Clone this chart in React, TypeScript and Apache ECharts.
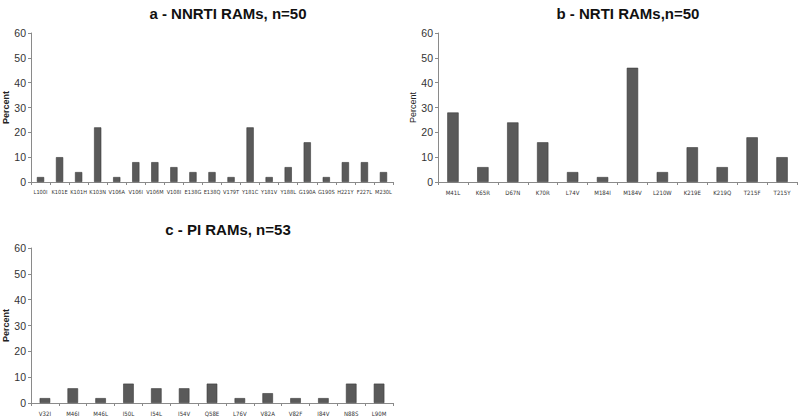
import React, { useEffect, useRef } from "react";
import * as echarts from "echarts";

const nnrtiCategories = ["L100I", "K101E", "K101H", "K103N", "V106A", "V106I", "V106M", "V108I", "E138G", "E138Q", "V179T", "Y181C", "Y181V", "Y188L", "G190A", "G190S", "H221Y", "F227L", "M230L"];
const nnrtiValues = [2, 10, 4, 22, 2, 8, 8, 6, 4, 4, 2, 22, 2, 6, 16, 2, 8, 8, 4];

const nrtiCategories = ["M41L", "K65R", "D67N", "K70R", "L74V", "M184I", "M184V", "L210W", "K219E", "K219Q", "T215F", "T215Y"];
const nrtiValues = [28, 6, 24, 16, 4, 2, 46, 4, 14, 6, 18, 10];

const piCategories = ["V32I", "M46I", "M46L", "I50L", "I54L", "I54V", "Q58E", "L76V", "V82A", "V82F", "I84V", "N88S", "L90M"];
const piValues = [1.9, 5.7, 1.9, 7.5, 5.7, 5.7, 7.5, 1.9, 3.8, 1.9, 1.9, 7.5, 7.5];

const titles = ["a - NNRTI RAMs, n=50", "b - NRTI RAMs,n=50", "c - PI RAMs, n=53"];
const yTicks = { min: 0, max: 60, interval: 10 };

const FONT = "'Liberation Sans', 'DejaVu Sans', sans-serif";
const NARROW = "'Liberation Sans Narrow', 'DejaVu Sans Condensed', 'Liberation Sans', sans-serif";
const AXIS_COLOR = "#8a8a8a";

export default function App() {
  const ref = useRef<HTMLDivElement>(null);
  useEffect(() => {
    if (!ref.current) return;
    const chart = echarts.init(ref.current, null, { renderer: "svg" });
    const grids = [
      { left: 31, top: 33, width: 362, height: 149 },
      { left: 438, top: 33, width: 359, height: 149 },
      { left: 31, top: 248, width: 362, height: 155 },
    ];
    const cats = [nnrtiCategories, nrtiCategories, piCategories];
    const vals = [nnrtiValues, nrtiValues, piValues];
    const boldName = [true, false, true];
    const titleCenters = [
      { x: 223, y: 1 },
      { x: 623, y: 1 },
      { x: 223, y: 217 },
    ];
    chart.setOption({
      animation: false,
      backgroundColor: "#ffffff",
      textStyle: { fontFamily: FONT },
      title: titles.map((t, i) => ({
        text: t,
        left: titleCenters[i].x,
        top: titleCenters[i].y,
        textAlign: "center",
        textStyle: { fontFamily: FONT, fontSize: 15, fontWeight: "bold", color: "#111" },
      })),
      grid: grids.map((g) => ({ ...g, containLabel: false })),
      xAxis: cats.map((c, i) => ({
        type: "category",
        gridIndex: i,
        data: c,
        axisLine: { lineStyle: { color: AXIS_COLOR, width: 1 } },
        axisTick: { show: true, length: 3, lineStyle: { color: AXIS_COLOR } },
        axisLabel: {
          interval: 0,
          hideOverlap: false,
          fontSize: i === 0 ? 5.6 : 6,
          color: "#333",
          margin: 7,
          fontFamily: NARROW,
        },
      })),
      yAxis: cats.map((_, i) => ({
        type: "value",
        gridIndex: i,
        min: yTicks.min,
        max: yTicks.max,
        interval: yTicks.interval,
        name: "Percent",
        nameLocation: "middle",
        nameGap: 21,
        nameTextStyle: { fontSize: 9, fontWeight: boldName[i] ? "bold" : "normal", color: "#222", fontFamily: FONT },
        axisLine: { show: true, lineStyle: { color: AXIS_COLOR, width: 1 } },
        axisTick: { show: true, length: 3, lineStyle: { color: AXIS_COLOR } },
        splitLine: { show: false },
        axisLabel: { fontSize: 10.5, color: "#333", margin: 5, fontFamily: FONT },
      })),
      series: vals.map((v, i) => ({
        type: "bar",
        xAxisIndex: i,
        yAxisIndex: i,
        data: v,
        barWidth: "38%",
        itemStyle: { color: "#5a5a5a", borderColor: "#3a3a3a", borderWidth: 0.6 },
      })),
    });
    return () => chart.dispose();
  }, []);
  return <div ref={ref} style={{ position: "fixed", left: 0, top: 0, width: 800, height: 417 }} />;
}
